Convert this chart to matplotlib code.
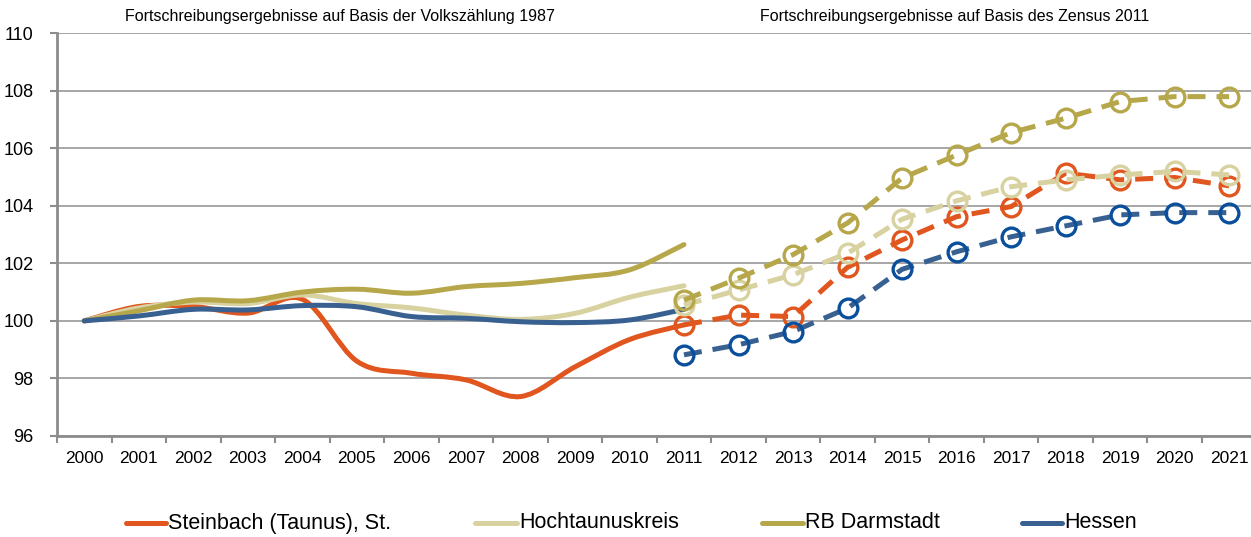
import numpy as np
import matplotlib
matplotlib.use("Agg")
import matplotlib.pyplot as plt
from matplotlib.path import Path
from matplotlib.patches import PathPatch
from matplotlib.lines import Line2D

# ---------------- data ----------------
years = list(range(2000, 2022))
year_labels = [str(y) for y in years]

years_old = list(range(2000, 2012))          # Volkszählung 1987 basis (solid)
years_new = list(range(2011, 2022))          # Zensus 2011 basis (dashed)

steinbach_old = [100.0, 100.5, 100.5, 100.27, 100.75, 98.6, 98.18, 97.95, 97.37, 98.4, 99.35, 99.86]
hochtaunus_old = [100.0, 100.45, 100.65, 100.6, 100.9, 100.6, 100.45, 100.2, 100.05, 100.26, 100.82, 101.22]
darmstadt_old = [100.0, 100.35, 100.72, 100.7, 101.0, 101.1, 100.96, 101.19, 101.3, 101.5, 101.77, 102.65]
hessen_old = [100.0, 100.17, 100.4, 100.38, 100.53, 100.49, 100.15, 100.09, 99.97, 99.94, 100.03, 100.4]

steinbach_new = [99.86, 100.2, 100.15, 101.86, 102.81, 103.62, 103.97, 105.13, 104.9, 104.98, 104.69]
hochtaunus_new = [100.55, 101.07, 101.6, 102.35, 103.53, 104.17, 104.66, 104.9, 105.07, 105.19, 105.07]
darmstadt_new = [100.72, 101.48, 102.3, 103.4, 104.96, 105.76, 106.54, 107.04, 107.62, 107.79, 107.79]
hessen_new = [98.82, 99.17, 99.63, 100.44, 101.79, 102.4, 102.92, 103.3, 103.68, 103.76, 103.76]

series_names = ["Steinbach (Taunus), St.", "Hochtaunuskreis", "RB Darmstadt", "Hessen"]
title_left = "Fortschreibungsergebnisse auf Basis der Volkszählung 1987"
title_right = "Fortschreibungsergebnisse auf Basis des Zensus 2011"

line_colors = ["#E0561E", "#D8D1A0", "#B7A74B", "#386090"]
marker_colors = ["#E0561E", "#D8D1A0", "#B7A74B", "#0A4F9C"]

# ---------------- figure ----------------
plt.rcParams['font.family'] = ['Liberation Sans', 'DejaVu Sans']

fig = plt.figure(figsize=(12.51, 5.37), dpi=100)
ax_left = 57 / 1251
ax_right = (57 + 22 * 54.52) / 1251
ax_bottom = 1 - 436 / 537
ax_top = 1 - 33 / 537
ax = fig.add_axes([ax_left, ax_bottom, ax_right - ax_left, ax_top - ax_bottom])

idx = {y: i for i, y in enumerate(years)}


def smooth_path(xs, ys):
    pts = np.column_stack([xs, ys]).astype(float)
    n = len(pts)
    verts = [pts[0]]
    codes = [Path.MOVETO]
    for i in range(n - 1):
        p0 = pts[i - 1] if i > 0 else pts[i]
        p1 = pts[i]
        p2 = pts[i + 1]
        p3 = pts[i + 2] if i + 2 < n else pts[i + 1]
        c1 = p1 + (p2 - p0) / 6.0
        c2 = p2 - (p3 - p1) / 6.0
        verts += [c1, c2, p2]
        codes += [Path.CURVE4] * 3
    return Path(verts, codes)


old_data = [steinbach_old, hochtaunus_old, darmstadt_old, hessen_old]
new_data = [steinbach_new, hochtaunus_new, darmstadt_new, hessen_new]

xo = [idx[y] for y in years_old]
xn = [idx[y] for y in years_new]

for k, vals in enumerate(old_data):
    p = smooth_path(xo, vals)
    patch = PathPatch(p, facecolor='none', edgecolor=line_colors[k], lw=3.6,
                      capstyle='round', joinstyle='round', zorder=3 + k)
    ax.add_patch(patch)

for k, vals in enumerate(new_data):
    ax.plot(xn, vals, color=line_colors[k], lw=3.6, linestyle=(0, (3.6, 2.2)),
            dash_capstyle='butt', zorder=8 + k)
    ax.plot(xn, vals, linestyle='none', marker='o', ms=13.5, mew=2.4,
            mfc='none', mec=marker_colors[k], zorder=8 + k)

ax.set_xlim(-0.5, 21.5)
ax.set_ylim(96, 110)
ax.set_yticks(np.arange(96, 111, 2))
ax.set_yticklabels([str(v) for v in range(96, 111, 2)])

ax.set_xticks(np.arange(-0.5, 21.6, 1.0))
ax.set_xticklabels([])
ax.set_xticks(np.arange(0, 22), minor=True)
ax.set_xticklabels(year_labels, minor=True)
ax.tick_params(axis='x', which='major', length=5, width=1.5, color='#8C8C8C', direction='out')
ax.tick_params(axis='x', which='minor', length=0, pad=11, labelsize=12.5)
ax.tick_params(axis='y', length=5, width=1.5, color='#8C8C8C', pad=12, labelsize=13)

ax.grid(axis='y', color='#A6A6A6', lw=1.4)
ax.set_axisbelow(True)
for s in ['top', 'right']:
    ax.spines[s].set_visible(False)
for s in ['left', 'bottom']:
    ax.spines[s].set_color('#8C8C8C')
    ax.spines[s].set_linewidth(2)

# section titles
fig.text(340 / 1251, 1 - 17 / 537, title_left, ha='center', va='center', fontsize=11.5)
fig.text(955 / 1251, 1 - 17 / 537, title_right, ha='center', va='center', fontsize=11.5)

# legend (manual)
leg_y = 1 - 523 / 537
leg_lines = [(126, 166), (475, 517), (762, 803), (1022, 1062)]
for k, (x0, x1) in enumerate(leg_lines):
    fig.add_artist(Line2D([x0 / 1251, x1 / 1251], [leg_y, leg_y], color=line_colors[k],
                          lw=3.6, solid_capstyle='round', transform=fig.transFigure))
    fig.text((x1 + 2) / 1251, leg_y, series_names[k], ha='left', va='center',
             fontsize=15.5)

fig.savefig("out.png", dpi=100)
